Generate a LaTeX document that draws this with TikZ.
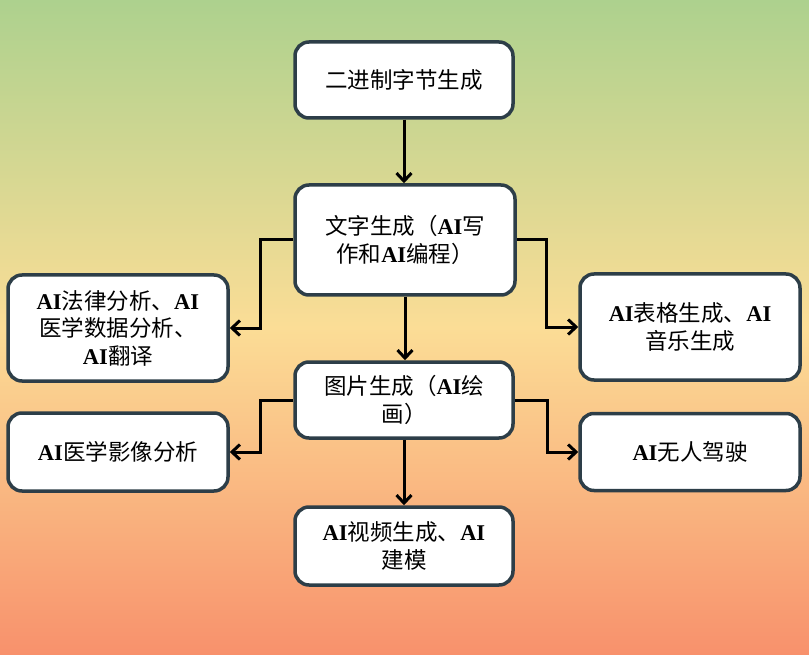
\documentclass[tikz,border=0pt]{standalone}
\usepackage{fontspec}
\setmainfont{Liberation Serif}
\newfontfamily\cjk{Noto Sans CJK SC}
\usetikzlibrary{arrows.meta}
\definecolor{bgtop}{RGB}{173,209,142}
\definecolor{bgmid}{RGB}{251,221,150}
\definecolor{bgbot}{RGB}{248,145,108}
\definecolor{edge}{RGB}{45,62,72}
\newcommand{\AIt}{{\bfseries AI}}
\newcommand{\Ch}[1]{{\cjk #1}}
\tikzset{
  box/.style={draw=edge, line width=3.5pt, fill=white, rounded corners=14pt,
    minimum width=218pt, align=center, inner sep=2pt,
    font=\fontsize{22.5}{27.5}\selectfont},
  arr/.style={draw=black, line width=3pt,
    -{Straight Barb[length=8pt,width=15pt,line width=3pt]}},
}
\begin{document}
\begin{tikzpicture}[x=1pt,y=-1pt]
\shade[top color=bgtop, bottom color=bgbot, middle color=bgmid] (0,0) rectangle (809,655);
\useasboundingbox (0,0) rectangle (809,655);

\node[box, minimum height=76pt] (top) at (404,80) {\Ch{二进制字节生成}};
\node[box, minimum width=220pt, minimum height=110pt] (wenzi) at (405,240)
  {\Ch{文字生成（}\AIt\Ch{写}\\ \Ch{作和}\AIt\Ch{编程）}};
\node[box, minimum width=220pt, minimum height=106pt] (L1) at (118,328)
  {\AIt\Ch{法律分析、}\AIt\\ \Ch{医学数据分析、}\\ \AIt\Ch{翻译}};
\node[box, minimum width=220pt, minimum height=106pt] (R1) at (690,327)
  {\AIt\Ch{表格生成、}\AIt\\ \Ch{音乐生成}};
\node[box, minimum height=76pt] (tupian) at (404,400)
  {\Ch{图片生成（}\AIt\Ch{绘}\\ \Ch{画）}};
\node[box, minimum width=220pt, minimum height=78pt] (L2) at (118,452)
  {\AIt\Ch{医学影像分析}};
\node[box, minimum width=220pt, minimum height=77pt] (R2) at (690,452)
  {\AIt\Ch{无人驾驶}};
\node[box, minimum height=78pt] (bot) at (404,546)
  {\AIt\Ch{视频生成、}\AIt\\ \Ch{建模}};

\draw[arr] (top.south) -- (top.south |- wenzi.north);
\draw[arr] (wenzi.south) -- (wenzi.south |- tupian.north);
\draw[arr] (tupian.south) -- (tupian.south |- bot.north);
\draw[arr] (wenzi.west) -- ++(-33,0) |- (L1.east);
\draw[arr] (wenzi.east) -- ++(30,0) |- (R1.west);
\draw[arr] (tupian.west) -- ++(-33,0) |- (L2.east);
\draw[arr] (tupian.east) -- ++(33,0) |- (R2.west);
\end{tikzpicture}
\end{document}
